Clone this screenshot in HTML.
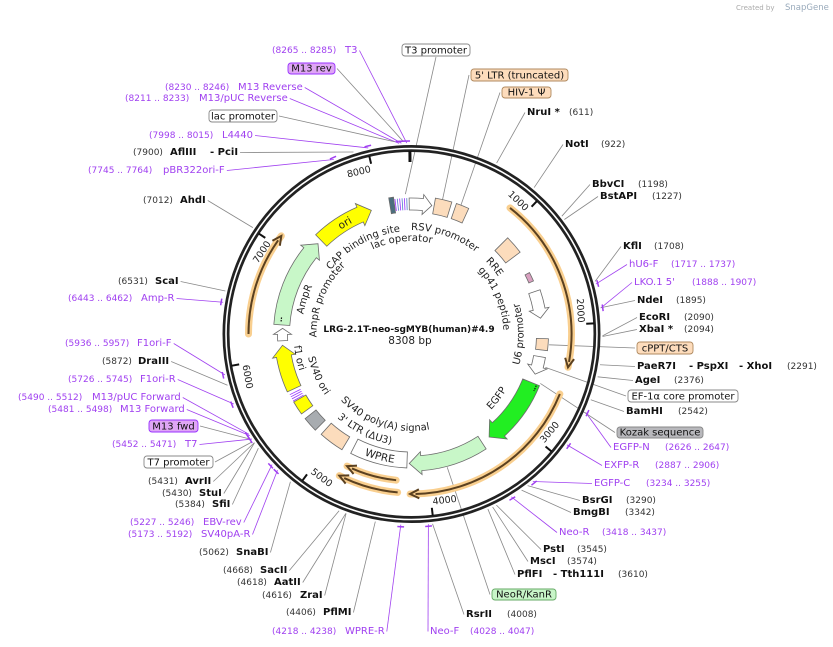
<!DOCTYPE html>
<html><head><meta charset="utf-8"><style>
html,body{margin:0;padding:0;background:#fff;}
svg{display:block;font-family:"DejaVu Sans","Liberation Sans",sans-serif;}
</style></head><body>
<svg id="s" width="833" height="647" viewBox="0 0 833 647" xmlns="http://www.w3.org/2000/svg">
<text x="736" y="10" font-size="7" fill="#aaa">Created by</text>
<text x="785" y="10" font-size="8.5" fill="#9ab">SnapGene</text>
<g id="lines"></g>
<g id="ring"></g>
<g id="feat"></g>
<g id="labs"></g>
<text x="409" y="332" font-size="9" font-weight="bold" text-anchor="middle" fill="#111">LRG-2.1T-neo-sgMYB(human)#4.9</text>
<text x="410" y="344" font-size="10.5" text-anchor="middle" fill="#222">8308 bp</text>
</svg>
<script>
const NS="http://www.w3.org/2000/svg";
const cx=411.5, cy=334, N=8308;
const svg=document.getElementById('s');
const G=id=>document.getElementById(id);
function el(t,a,p,txt){const e=document.createElementNS(NS,t);for(const k in a)e.setAttribute(k,a[k]);if(txt!==undefined)e.textContent=txt;(p||svg).appendChild(e);return e;}
function P(r,a){a=a*Math.PI/180;return [+(cx+r*Math.sin(a)).toFixed(2),+(cy-r*Math.cos(a)).toFixed(2)];}
const ang=bp=>bp/N*360;
function sector(r1,r2,a1,a2){const l=(a2-a1)>180?1:0;return `M${P(r2,a1)}A${r2},${r2} 0 ${l} 1 ${P(r2,a2)}L${P(r1,a2)}A${r1},${r1} 0 ${l} 0 ${P(r1,a1)}Z`;}
function arrow(r1,r2,a1,a2,hl){const rm=(r1+r2)/2,ha=hl/rm*180/Math.PI,b=a2-ha,e=4;const l=(b-a1)>180?1:0;
return `M${P(r2,a1)}A${r2},${r2} 0 ${l} 1 ${P(r2,b)}L${P(r2+e,b)}L${P(rm,a2)}L${P(r1-e,b)}L${P(r1,b)}A${r1},${r1} 0 ${l} 0 ${P(r1,a1)}Z`;}
function arc(r,a1,a2,sw){const l=Math.abs(a2-a1)>180?1:0;return `M${P(r,a1)}A${r},${r} 0 ${l} ${sw} ${P(r,a2)}`;}
const F=G('feat'),R=G('ring'),Ls=G('lines'),LB=G('labs');
el('circle',{cx,cy,r:185.5,fill:'none',stroke:'#222','stroke-width':7},R);
el('circle',{cx,cy,r:185.5,fill:'none',stroke:'#fff','stroke-width':1.6},R);
el('path',{d:`M${P(172,-0.5)}L${P(183,-0.5)}`,stroke:'#111','stroke-width':3},R);
for(let n=1;n<=8;n++){const a=ang(n*1000);
 el('path',{d:`M${P(175,a)}L${P(183,a)}`,stroke:'#111','stroke-width':2},R);
 const p=P(170,a-4.6);let rot=a;if(a>90&&a<270)rot=a-180;else if(a>=270)rot=a-360;
 el('text',{x:p[0],y:p[1],'font-size':9.5,'text-anchor':'middle','dominant-baseline':'central',transform:`rotate(${rot.toFixed(1)} ${p[0]} ${p[1]})`,fill:'#222'},R,String(n*1000));}
function orf(r,a1,a2){const ha=9/r*180/Math.PI;
 el('path',{d:arc(r,a1,a2,1),fill:'none',stroke:'#f9cf8f','stroke-width':7,'stroke-linecap':'round'},F);
 el('path',{d:arc(r,a1,a2-ha*0.6,1),fill:'none',stroke:'#5a4020','stroke-width':2},F);
 el('path',{d:`M${P(r+4.5,a2-ha)}L${P(r,a2)}L${P(r-4.5,a2-ha)}`,fill:'none',stroke:'#5a4020','stroke-width':2},F);}
orf(160,38,102);orf(160,112,180.5);orf(147,186,206);orf(159,185,207);orf(163,270,307);
const ORG='#fcdcbc',ST='#6b6b6b';
function sec(a1,a2,fill,r1=122,r2=138,st=ST){el('path',{d:sector(r1,r2,a1,a2),fill,stroke:st,'stroke-width':0.8},F);}
function arr(a1,a2,fill,r1=123,r2=137,hl=10){el('path',{d:arrow(r1,r2,a1,a2,hl),fill,stroke:ST,'stroke-width':0.8},F);}
sec(350.5,352.5,'#4a6e7e');
for(const a of [353,354,355,356,357,358])el('path',{d:`M${P(124,a)}L${P(136,a)}`,stroke:a%2?'#9933ff':'#5577cc','stroke-width':0.8},F);
arr(359,369,'#fff',124,136,9);
sec(10,17,ORG);sec(19,24.5,ORG);
sec(45,53,ORG,118,136);
sec(62.5,66.5,'#d9a0c0',128,133);
arr(71,83,'#fff',124,136,9);
sec(92,97,ORG,125,137);
arr(100,108,'#fff',124,136,8);
arr(112,143,'#22ee22',120,138,12);
el('path',{d:arc(135,112.5,115,1),fill:'none',stroke:'#111','stroke-width':1.2,'stroke-dasharray':'1.5 1'},F);
arr(147,181,'#c8f7c8',122,137,12);
sec(182,207,'#fff',118,134);
sec(211,222,ORG,120,135);
sec(225,231.5,'#a8acb0',122,136);
sec(234,240,'#ffff00',122,136);
for(const a of [240.5,241.5,242.5,243.5])el('path',{d:`M${P(124,a)}L${P(136,a)}`,stroke:'#9933ff','stroke-width':0.8},F);
arr(245,265,'#ffff00',122,137,11);
arr(267,272.5,'#fff',124,134,6);
arr(274,314,'#c8f7c8',122,138,12);
el('path',{d:arc(131,275.5,277.5,1),fill:'none',stroke:'#111','stroke-width':1.2,'stroke-dasharray':'1.5 1'},F);
arr(316,342,'#ffff00',122,138,12);
let pid=0;
function ct(txt,r,ac,cw,size=10,span=70){const id='tp'+(pid++);
 const d=cw?arc(r,ac-span,ac+span,1):arc(r,ac+span,ac-span,0);
 el('path',{id,d,fill:'none'},F);const t=el('text',{'font-size':size,fill:'#222'},F);
 el('textPath',{href:'#'+id,startOffset:'50%','text-anchor':'middle'},t,txt);}
ct('RSV promoter',104,19,1);ct('CAP binding site',103,331,1);ct('lac operator',93,354,1);
ct('RRE',104,51,1);ct('gp41 peptide',92,67,1);ct('U6 promoter',112,90,0);
ct('EGFP',110,127,0);ct('SV40 poly(A) signal',97,198,0);ct('3\' LTR (\u0394U3)',112,206,0);
ct('SV40 ori',106,246,0);ct('f1 ori',118,258,0);ct('AmpR',110,288,1);ct('AmpR promoter',95,292,1);
ct('ori',126,329,1,10.5,30);
ct('WPRE',130,194.5,0,10.5,30);
const STY={b:['10','bold','#111'],n:['9','normal','#333'],p:['10','normal','#a040f0'],pn:['9','normal','#a040f0']};
function target(bp,r){return P(r,ang(bp));}
function drawLine(bb,t,col){const c=[[bb.x-2,bb.y+bb.height/2],[bb.x+bb.width+2,bb.y+bb.height/2],[bb.x+bb.width/2,bb.y+bb.height+1]];
 let best=c[0],bd=1e9;for(const q of c){const d=Math.hypot(q[0]-t[0],q[1]-t[1]);if(d<bd){bd=d;best=q;}}
 el('path',{d:`M${best}L${t}`,stroke:col,'stroke-width':0.8,fill:'none'},Ls);}
function lab(y,bp,parts){const g=el('g',{},LB);let purple=false;
 for(const [x,txt,s] of parts){const st=STY[s];if(s[0]=='p')purple=true;
  el('text',{x,y,'font-size':st[0],'font-weight':st[1],fill:st[2]},g,txt);}
 const bb=g.getBBox();const t=target(bp,191);drawLine(bb,t,purple?'#a040f0':'#888');
 if(purple){const a=ang(bp);el('path',{d:arc(193,a-1,a+1,1),stroke:'#a040f0','stroke-width':1.5,fill:'none'},F);}}
function box(x,y,w,h,txt,fill,stroke,a,r){
 el('rect',{x,y,width:w,height:h,rx:3,fill,stroke,'stroke-width':0.9},LB);
 el('text',{x:x+w/2,y:y+h-2.5,'font-size':10,'text-anchor':'middle',fill:'#111'},LB,txt);
 drawLine({x,y,width:w,height:h},P(r,a),'#888');}
lab(115,611,[[527,'NruI *','b'],[569,'(611)','n']]);
lab(147,922,[[565,'NotI','b'],[601,'(922)','n']]);
lab(187,1198,[[592,'BbvCI','b'],[638,'(1198)','n']]);
lab(199,1227,[[600,'BstAPI','b'],[652,'(1227)','n']]);
lab(249,1708,[[623,'KflI','b'],[654,'(1708)','n']]);
lab(267,1727,[[629,'hU6-F','p'],[671,'(1717 .. 1737)','pn']]);
lab(285,1897,[[634,"LKO.1 5'",'p'],[692,'(1888 .. 1907)','pn']]);
lab(303,1895,[[637,'NdeI','b'],[676,'(1895)','n']]);
lab(320,2090,[[639,'EcoRI','b'],[684,'(2090)','n']]);
lab(332,2094,[[639,'XbaI *','b'],[684,'(2094)','n']]);
lab(369,2291,[[637,'PaeR7I','b'],[689,'- PspXI','b'],[739,'- XhoI','b'],[787,'(2291)','n']]);
lab(383,2376,[[635,'AgeI','b'],[674,'(2376)','n']]);
lab(414,2542,[[626,'BamHI','b'],[678,'(2542)','n']]);
lab(450,2636,[[613,'EGFP-N','p'],[665,'(2626 .. 2647)','pn']]);
lab(468,2896,[[604,'EXFP-R','p'],[655,'(2887 .. 2906)','pn']]);
lab(486,3244,[[594,'EGFP-C','p'],[646,'(3234 .. 3255)','pn']]);
lab(503,3290,[[582,'BsrGI','b'],[626,'(3290)','n']]);
lab(515,3342,[[573,'BmgBI','b'],[625,'(3342)','n']]);
lab(535,3427,[[559,'Neo-R','p'],[602,'(3418 .. 3437)','pn']]);
lab(552,3545,[[543,'PstI','b'],[577,'(3545)','n']]);
lab(564,3574,[[530,'MscI','b'],[567,'(3574)','n']]);
lab(577,3610,[[517,'PflFI','b'],[553,'- Tth111I','b'],[618,'(3610)','n']]);
lab(617,4008,[[466,'RsrII','b'],[507,'(4008)','n']]);
lab(634,4037,[[430,'Neo-F','p'],[470,'(4028 .. 4047)','pn']]);
lab(634,4228,[[272,'(4218 .. 4238)','pn'],[345,'WPRE-R','p']]);
lab(615,4406,[[286,'(4406)','n'],[323,'PflMI','b']]);
lab(598,4616,[[262,'(4616)','n'],[300,'ZraI','b']]);
lab(585,4618,[[237,'(4618)','n'],[274,'AatII','b']]);
lab(573,4668,[[223,'(4668)','n'],[260,'SacII','b']]);
lab(555,5062,[[199,'(5062)','n'],[236,'SnaBI','b']]);
lab(537,5182,[[128,'(5173 .. 5192)','pn'],[201,'SV40pA-R','p']]);
lab(525,5236,[[130,'(5227 .. 5246)','pn'],[203,'EBV-rev','p']]);
lab(507,5384,[[175,'(5384)','n'],[212,'SfiI','b']]);
lab(496,5430,[[162,'(5430)','n'],[199,'StuI','b']]);
lab(484,5431,[[148,'(5431)','n'],[185,'AvrII','b']]);
lab(447,5461,[[112,'(5452 .. 5471)','pn'],[185,'T7','p']]);
lab(412,5489,[[48,'(5481 .. 5498)','pn'],[120,'M13 Forward','p']]);
lab(400,5501,[[18,'(5490 .. 5512)','pn'],[92,'M13/pUC Forward','p']]);
lab(382,5735,[[68,'(5726 .. 5745)','pn'],[140,'F1ori-R','p']]);
lab(364,5872,[[102,'(5872)','n'],[138,'DraIII','b']]);
lab(346,5946,[[65,'(5936 .. 5957)','pn'],[137,'F1ori-F','p']]);
lab(301,6452,[[68,'(6443 .. 6462)','pn'],[141,'Amp-R','p']]);
lab(284,6531,[[118,'(6531)','n'],[155,'ScaI','b']]);
lab(203,7012,[[143,'(7012)','n'],[180,'AhdI','b']]);
lab(173,7754,[[88,'(7745 .. 7764)','pn'],[163,'pBR322ori-F','p']]);
lab(155,7900,[[133,'(7900)','n'],[170,'AflIII','b'],[210,'- PciI','b']]);
lab(138,8006,[[149,'(7998 .. 8015)','pn'],[222,'L4440','p']]);
lab(101,8222,[[125,'(8211 .. 8233)','pn'],[199,'M13/pUC Reverse','p']]);
lab(90,8238,[[165,'(8230 .. 8246)','pn'],[238,'M13 Reverse','p']]);
lab(53,8275,[[272,'(8265 .. 8285)','pn'],[345,'T3','p']]);
box(402,44,68,12,'T3 promoter','#fff','#888',-2.5,140);
box(288,63,47,11,'M13 rev','#dfa6f5','#9933ff',ang(8250),193);
box(209,110,68,12,'lac promoter','#fff','#888',-5,193);
box(471,69,97,12,"5' LTR (truncated)",'#fddcbc','#b08a60',13,138);
box(502,87,49,11,'HIV-1 \u03A8','#fddcbc','#b08a60',21,138);
box(637,342,56,12,'cPPT/CTS','#fddcbc','#b08a60',94.5,138);
box(628,390,110,12,'EF-1\u03B1 core promoter','#fff','#888',104,138);
box(617,427,86,11,'Kozak sequence','#b8b8bc','#888',111,138);
box(492,589,64,11,'NeoR/KanR','#c8f5c8','#6a6',165,138);
box(144,456,69,12,'T7 promoter','#fff','#888',ang(5445),193);
box(149,420,49,12,'M13 fwd','#dfa6f5','#9933ff',ang(5470),193);
</script>
</body></html>
